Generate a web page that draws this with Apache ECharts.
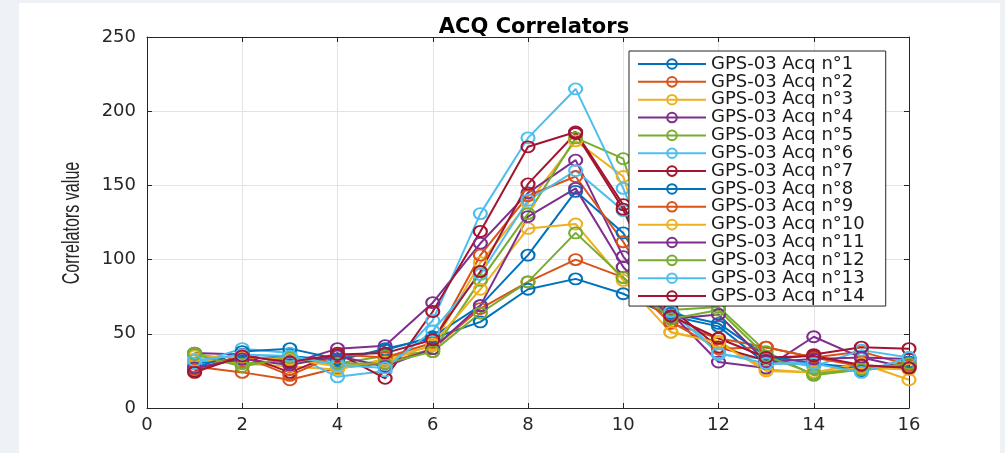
<!DOCTYPE html>
<html>
<head>
<meta charset="utf-8">
<script src="https://cdn.jsdelivr.net/npm/echarts@6/dist/echarts.min.js"></script>
<style>
html,body{margin:0;padding:0;background:#eef1f6;}
#c{width:1005px;height:453px;}
</style>
</head>
<body>
<div id="c"></div>
<script>
var xValues = [1,2,3,4,5,6,7,8,9,10,11,12,13,14,15,16];
var seriesNames = ['GPS-03 Acq n°1','GPS-03 Acq n°2','GPS-03 Acq n°3','GPS-03 Acq n°4','GPS-03 Acq n°5','GPS-03 Acq n°6','GPS-03 Acq n°7','GPS-03 Acq n°8','GPS-03 Acq n°9','GPS-03 Acq n°10','GPS-03 Acq n°11','GPS-03 Acq n°12','GPS-03 Acq n°13','GPS-03 Acq n°14'];
var acq1  = [30, 33, 35, 32, 40, 47, 58, 80, 87, 77, 62, 55, 30, 30, 27, 28];
var acq2  = [28, 24, 19, 27, 30, 40, 67, 85, 100, 88, 57, 47, 41, 34, 38, 29];
var acq3  = [33, 30, 28, 26, 33, 42, 98, 138, 180, 156, 51, 45, 26, 24, 30, 19];
var acq4  = [37, 36, 30, 40, 42, 71, 111, 145, 167, 102, 64, 31, 27, 48, 34, 33];
var acq5  = [37, 30, 32, 30, 35, 38, 86, 131, 182, 168, 66, 68, 38, 22, 26, 28];
var acq6  = [30, 40, 37, 21, 25, 59, 131, 182, 215, 148, 70, 36, 33, 28, 39, 34];
var acq7  = [25, 36, 24, 37, 20, 65, 119, 176, 186, 137, 67, 41, 32, 36, 41, 40];
var acq8  = [27, 38, 40, 33, 39, 48, 69, 103, 146, 118, 64, 57, 35, 30, 25, 31];
var acq9  = [26, 35, 22, 36, 34, 44, 103, 143, 156, 112, 58, 40, 41, 34, 28, 29];
var acq10 = [35, 34, 33, 28, 31, 43, 80, 121, 124, 86, 51, 44, 25, 24, 27, 26];
var acq11 = [27, 33, 29, 35, 28, 40, 69, 129, 148, 95, 60, 63, 31, 33, 34, 27];
var acq12 = [36, 28, 34, 30, 30, 38, 64, 85, 118, 88, 60, 66, 35, 23, 26, 30];
var acq13 = [32, 36, 35, 29, 27, 52, 90, 140, 160, 133, 65, 37, 30, 30, 24, 34];
var acq14 = [24, 35, 31, 36, 37, 46, 92, 151, 185, 134, 62, 47, 34, 35, 29, 27];
var allData = [acq1,acq2,acq3,acq4,acq5,acq6,acq7,acq8,acq9,acq10,acq11,acq12,acq13,acq14];
var colors = ['#0072BD','#D95319','#EDB120','#7E2F8E','#77AC30','#4DBEEE','#A2142F'];
var yTicks = [0,50,100,150,200,250];
var xTicks = [0,2,4,6,8,10,12,14,16];

var chart = echarts.init(document.getElementById('c'), null, {renderer:'canvas'});
var series = allData.map(function(d, i){
  return {
    name: seriesNames[i],
    type: 'line',
    data: d.map(function(v, j){ return [xValues[j], v]; }),
    symbol: 'circle',
    symbolSize: [13, 11],
    showAllSymbol: true,
    lineStyle: {width: 2, color: colors[i % 7]},
    itemStyle: {color: 'rgba(255,255,255,0)', borderColor: colors[i % 7], borderWidth: 2},
    emphasis: {disabled: true},
    animation: false
  };
});

var axisCommon = {
  axisLine: {show: true, onZero: false, lineStyle: {color: '#262626', width: 1}},
  axisTick: {show: true, inside: true, length: 5, lineStyle: {color: '#262626'}}
};

chart.setOption({
  backgroundColor: '#eef1f6',
  animation: false,
  color: colors,
  graphic: [
    {type: 'rect', shape: {x: 19, y: 3, width: 981, height: 450}, style: {fill: '#ffffff'}, z: -10, silent: true},
    {type: 'text', x: 73, y: 223, rotation: Math.PI / 2, scaleX: 0.7, silent: true, z: 10,
     style: {text: 'Correlators value', fill: '#262626', font: '23px "Liberation Sans", Arial, sans-serif', textAlign: 'center', textVerticalAlign: 'middle'}}
  ],
  title: {
    text: 'ACQ Correlators',
    left: 529, top: 12, textAlign: 'center',
    textStyle: {fontFamily: 'DejaVu Sans', fontWeight: 'bold', fontSize: 21, color: '#000'}
  },
  grid: {left: 147, right: 96, top: 37, bottom: 45, containLabel: false},
  legend: {
    orient: 'vertical',
    left: 629, top: 51,
    padding: [4, 21, 1, 8],
    backgroundColor: '#ffffff',
    borderColor: '#262626', borderWidth: 1,
    itemWidth: 68, itemHeight: 12, itemGap: -0.15,
    textStyle: {fontFamily: 'DejaVu Sans', fontSize: 18, color: '#1a1a1a'},
    data: seriesNames,
    selectedMode: false,
    z: 20
  },
  xAxis: [
    Object.assign({
      type: 'value', min: 0, max: 16, interval: 2, position: 'bottom',
      axisLabel: {fontFamily: 'DejaVu Sans', fontSize: 18, color: '#262626', margin: 8},
      splitLine: {show: true, lineStyle: {color: '#e3e3e3', width: 1}}
    }, axisCommon),
    Object.assign({
      type: 'value', min: 0, max: 16, interval: 2, position: 'top',
      axisLabel: {show: false}, splitLine: {show: false}
    }, axisCommon)
  ],
  yAxis: [
    Object.assign({
      type: 'value', min: 0, max: 250, interval: 50, position: 'left',
      axisLabel: {fontFamily: 'DejaVu Sans', fontSize: 18, color: '#262626', margin: 11},
      splitLine: {show: true, lineStyle: {color: '#e3e3e3', width: 1}}
    }, axisCommon),
    Object.assign({
      type: 'value', min: 0, max: 250, interval: 50, position: 'right',
      axisLabel: {show: false}, splitLine: {show: false}
    }, axisCommon)
  ],
  series: series
});
</script>
</body>
</html>
